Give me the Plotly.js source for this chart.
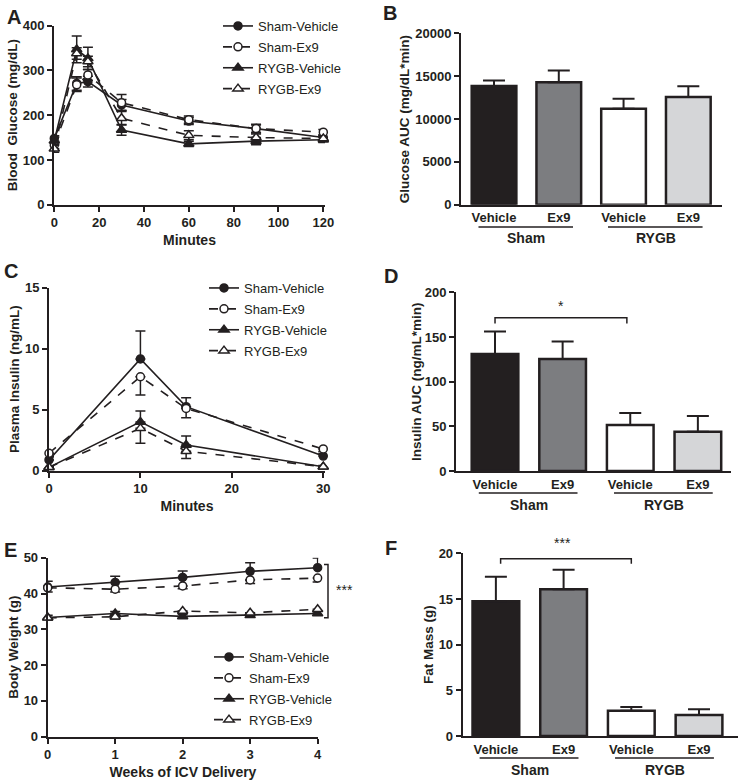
<!DOCTYPE html>
<html>
<head>
<meta charset="utf-8">
<script src="https://cdn.plot.ly/plotly-3.0.1.min.js"></script>
<style>html,body{margin:0;padding:0;background:#fff;}#chart{width:739px;height:780px;}</style>
</head>
<body>
<div id="chart"></div>
<script>
// ---------------- DATA ----------------
const seriesNames = ['Sham-Vehicle', 'Sham-Ex9', 'RYGB-Vehicle', 'RYGB-Ex9'];

// Panel A: blood glucose (mg/dL) vs minutes
const minutesA = [0, 10, 15, 30, 60, 90, 120];
const glucoseShamVeh = [148, 271, 275, 223, 187, 170, 150];
const glucoseShamVehErr = [6, 15, 12, 12, 8, 10, 6];
const glucoseShamEx9 = [133, 268, 290, 228, 190, 170, 162];
const glucoseShamEx9Err = [8, 15, 12, 18, 8, 8, 6];
const glucoseRygbVeh = [143, 347, 327, 167, 136, 142, 145];
const glucoseRygbVehErr = [8, 30, 25, 12, 6, 8, 6];
const glucoseRygbEx9 = [125, 338, 320, 193, 155, 150, 148];
const glucoseRygbEx9Err = [8, 13, 12, 15, 10, 8, 6];

// Panel C: plasma insulin (ng/mL) vs minutes
const minutesC = [0, 10, 15, 30];
const insulinShamVeh = [0.88, 9.16, 5.25, 1.2];
const insulinShamVehErr = [0.3, 2.3, 0.72, 0.2];
const insulinShamEx9 = [1.43, 7.7, 5.1, 1.78];
const insulinShamEx9Err = [0.3, 1.5, 0.75, 0.2];
const insulinRygbVeh = [0.28, 4.0, 2.1, 0.33];
const insulinRygbVehErr = [0.1, 0.9, 0.75, 0.1];
const insulinRygbEx9 = [0.28, 3.47, 1.6, 0.33];
const insulinRygbEx9Err = [0.1, 1.23, 0.6, 0.1];

// Panel E: body weight (g) vs weeks
const weeksE = [0, 1, 2, 3, 4];
const weightShamVeh = [41.8, 43.1, 44.5, 46.2, 47.2];
const weightShamVehErr = [1.6, 1.7, 1.8, 2.4, 2.7];
const weightShamEx9 = [41.6, 41.2, 42.1, 43.8, 44.3];
const weightShamEx9Err = [1.2, 0.8, 0.8, 1.0, 1.1];
const weightRygbVeh = [33.3, 34.4, 33.6, 33.9, 34.4];
const weightRygbVehErr = [0.6, 0.6, 0.6, 0.6, 0.6];
const weightRygbEx9 = [33.2, 33.5, 35.1, 34.6, 35.6];
const weightRygbEx9Err = [0.6, 0.6, 0.6, 0.6, 0.8];

// Bar panels (B, D, F)
const barGroups = ['Sham', 'Sham', 'RYGB', 'RYGB'];
const barTreatments = ['Vehicle', 'Ex9', 'Vehicle', 'Ex9'];
const glucoseAUC = [13850, 14300, 11200, 12570];
const glucoseAUCErr = [650, 1360, 1170, 1240];
const insulinAUC = [131, 125.4, 51.5, 44];
const insulinAUCErr = [25, 19.4, 13.4, 17.6];
const fatMass = [14.74, 16.06, 2.77, 2.3];
const fatMassErr = [2.7, 2.14, 0.41, 0.62];

// ---------------- STYLE ----------------
const W = 739, H = 780;
const INK = '#231f20';
const FONT = 'Liberation Sans, Arial, Helvetica, sans-serif';
const barFill = ['#231f20', '#7c7d80', '#ffffff', '#d5d6d8'];
const px = v => v / W;
const py = v => 1 - v / H;

const seriesStyle = [
  {symbol: 'circle', fill: INK, dash: 'solid', size: 8, errDir: 'up'},
  {symbol: 'circle', fill: '#ffffff', dash: 'dash', size: 8, errDir: 'down'},
  {symbol: 'triangle-up', fill: INK, dash: 'solid', size: 9, errDir: 'up'},
  {symbol: 'triangle-up', fill: '#ffffff', dash: 'dash', size: 9, errDir: 'down'}
];

function lineTrace(i, x, y, err, xa, ya, legendId, oneSided) {
  const s = seriesStyle[i];
  let ey;
  if (!oneSided) {
    ey = {type: 'data', array: err, visible: true, color: INK, thickness: 1.5, width: 5};
  } else {
    const zeros = err.map(() => 0);
    ey = {type: 'data', symmetric: false,
          array: s.errDir === 'up' ? err : zeros,
          arrayminus: s.errDir === 'up' ? zeros : err,
          visible: true, color: INK, thickness: 1.5, width: 5};
  }
  return {
    type: 'scatter', mode: 'lines+markers', name: seriesNames[i],
    x: x, y: y, xaxis: xa, yaxis: ya, legend: legendId,
    legendgroup: legendId + i,
    cliponaxis: false,
    line: {color: INK, width: 1.6, dash: s.dash},
    marker: {symbol: s.symbol, size: s.size, color: s.fill, line: {color: INK, width: 1.5}},
    error_y: ey
  };
}

function barTrace(vals, errs, xa, ya) {
  return {
    type: 'bar', x: vals.map((v, i) => i), y: vals, xaxis: xa, yaxis: ya,
    width: 0.69, showlegend: false,
    marker: {color: barFill, line: {color: INK, width: 2.5}},
    error_y: {type: 'data', symmetric: false, array: errs, arrayminus: errs.map(() => 0),
              color: INK, thickness: 2, width: 11}
  };
}

const traces = [];
const gA = [glucoseShamVeh, glucoseShamEx9, glucoseRygbVeh, glucoseRygbEx9];
const gAe = [glucoseShamVehErr, glucoseShamEx9Err, glucoseRygbVehErr, glucoseRygbEx9Err];
const iC = [insulinShamVeh, insulinShamEx9, insulinRygbVeh, insulinRygbEx9];
const iCe = [insulinShamVehErr, insulinShamEx9Err, insulinRygbVehErr, insulinRygbEx9Err];
const wE = [weightShamVeh, weightShamEx9, weightRygbVeh, weightRygbEx9];
const wEe = [weightShamVehErr, weightShamEx9Err, weightRygbVehErr, weightRygbEx9Err];
for (let i = 0; i < 4; i++) traces.push(lineTrace(i, minutesA, gA[i], gAe[i], 'x', 'y', 'legend', false));
traces.push(barTrace(glucoseAUC, glucoseAUCErr, 'x2', 'y2'));
for (let i = 0; i < 4; i++) traces.push(lineTrace(i, minutesC, iC[i], iCe[i], 'x3', 'y3', 'legend2', true));
traces.push(barTrace(insulinAUC, insulinAUCErr, 'x4', 'y4'));
for (let i = 0; i < 4; i++) traces.push(lineTrace(i, weeksE, wE[i], wEe[i], 'x5', 'y5', 'legend3', true));
traces.push(barTrace(fatMass, fatMassErr, 'x6', 'y6'));

const tickFont = {family: FONT, size: 13, color: INK, weight: 'bold'};
const titleFont = {family: FONT, size: 13.5, color: INK, weight: 'bold'};

function xAxis(dom, range, extra) {
  return Object.assign({
    domain: [px(dom[0]), px(dom[1])], range: range, showgrid: false, zeroline: false,
    showline: true, linecolor: INK, linewidth: 2, ticks: 'outside', ticklen: 5, tickwidth: 2,
    tickcolor: INK, tickfont: tickFont, fixedrange: true
  }, extra || {});
}
function yAxis(dom, range, dtick, titleText, standoff, extra) {
  return Object.assign({
    domain: [py(dom[1]), py(dom[0])], range: range, dtick: dtick, tickformat: 'd',
    showgrid: false, zeroline: false,
    showline: true, linecolor: INK, linewidth: 2, ticks: 'outside', ticklen: 5, tickwidth: 2,
    tickcolor: INK, tickfont: tickFont, fixedrange: true,
    title: {text: titleText, font: titleFont, standoff: standoff}
  }, extra || {});
}
function barXAxis(dom, range, anchor) {
  return xAxis(dom, range, {
    anchor: anchor, tickmode: 'array', tickvals: barTreatments.map((t, i) => i),
    ticktext: barTreatments, ticks: '', ticklabelstandoff: 0
  });
}

function legendAt(left, top) {
  return {x: px(left), y: py(top), xanchor: 'left', yanchor: 'top', bgcolor: 'rgba(0,0,0,0)',
          borderwidth: 0, tracegroupgap: 1, font: {family: FONT, size: 13, color: INK}};
}

// Group labels / underlines under bar panels, derived from the group categories
const annotations = [];
const shapes = [];
function groupLabels(xa, lineY, labelY) {
  const uniq = [...new Set(barGroups)];
  uniq.forEach(g => {
    const idx = barGroups.map((v, i) => v === g ? i : -1).filter(i => i >= 0);
    const lo = Math.min(...idx), hi = Math.max(...idx);
    shapes.push({type: 'line', xref: xa, yref: 'paper', x0: lo - 0.24, x1: hi + 0.22,
                 y0: py(lineY), y1: py(lineY), line: {color: INK, width: 1.5}});
    annotations.push({xref: xa, yref: 'paper', x: (lo + hi) / 2, y: py(labelY), text: g,
                      showarrow: false, font: {family: FONT, size: 14, color: INK, weight: 'bold'},
                      xanchor: 'center', yanchor: 'middle'});
  });
}
groupLabels('x2', 227, 238);
groupLabels('x4', 493, 505);
groupLabels('x6', 758, 770);

// Panel letters
[['A', 5, 17], ['B', 381, 13], ['C', 2, 271], ['D', 382, 276], ['E', 2, 550], ['F', 383, 548]].forEach(l => {
  annotations.push({xref: 'paper', yref: 'paper', x: px(l[1]), y: py(l[2]), text: l[0], showarrow: false,
                    xanchor: 'left', yanchor: 'middle', font: {family: FONT, size: 20, color: INK, weight: 'bold'}});
});

// Significance brackets
function bracket(xa, ya, i0, i1, yTop, yDrop) {
  shapes.push({type: 'path', xref: xa, yref: ya,
               path: `M ${i0} ${yDrop} L ${i0} ${yTop} L ${i1} ${yTop} L ${i1} ${yDrop}`,
               line: {color: INK, width: 1.5}});
}
bracket('x4', 'y4', 0, 1.95, 171.6, 165);
annotations.push({xref: 'x4', yref: 'y4', x: 0.98, y: 173, text: '*', showarrow: false, yanchor: 'bottom',
                  font: {family: FONT, size: 14, color: INK}});
bracket('x6', 'y6', 0.07, 2.0, 19.4, 18.85);
annotations.push({xref: 'x6', yref: 'y6 domain', x: 0.98, y: 1.0, text: '***', showarrow: false, yanchor: 'bottom',
                  font: {family: FONT, size: 14, color: INK}});
// Panel E bracket (right of the plot)
shapes.push({type: 'path', xref: 'paper', yref: 'y5',
             path: `M ${px(324)} 48.1 L ${px(328)} 48.1 L ${px(328)} 33.2 L ${px(324)} 33.2`,
             line: {color: INK, width: 1.5}});
annotations.push({xref: 'paper', yref: 'y5', x: px(344), y: 41, text: '***', showarrow: false,
                  font: {family: FONT, size: 14, color: INK}});

const layout = {
  width: W, height: H, margin: {l: 0, r: 0, t: 0, b: 0}, paper_bgcolor: '#fff', plot_bgcolor: '#fff',
  font: {family: FONT, color: INK}, showlegend: true, bargap: 0.3,
  xaxis: xAxis([54, 325], [-0.13, 120.75], {anchor: 'y', dtick: 20,
          title: {text: 'Minutes', font: {family: FONT, size: 14, color: INK, weight: 'bold'}, standoff: 6}}),
  yaxis: yAxis([25.7, 204.7], [0, 400], 100, 'Blood  Glucose (mg/dL)', 2, {anchor: 'x'}),
  xaxis2: barXAxis([461, 722], [-0.51, 3.52], 'y2'),
  yaxis2: yAxis([33.3, 204.7], [0, 20000], 5000, 'Glucose AUC (mg/dL*min)', 3, {anchor: 'x2'}),
  xaxis3: xAxis([49, 325], [0, 30.19], {anchor: 'y3', dtick: 10,
          title: {text: 'Minutes', font: {family: FONT, size: 14, color: INK, weight: 'bold'}, standoff: 6}}),
  yaxis3: yAxis([287.7, 470.7], [0, 15], 5, 'Plasma Insulin (ng/mL)', 2, {anchor: 'x3'}),
  xaxis4: barXAxis([456, 731], [-0.577, 3.49], 'y4'),
  yaxis4: yAxis([292.3, 471], [0, 200], 50, 'Insulin AUC (ng/mL*min)', 0, {anchor: 'x4'}),
  xaxis5: xAxis([47.7, 318.3], [0, 4.01], {anchor: 'y5', dtick: 1,
          title: {text: 'Weeks of ICV Delivery', font: {family: FONT, size: 14, color: INK, weight: 'bold'}, standoff: 6}}),
  yaxis5: yAxis([557.7, 736.7], [0, 50], 10, 'Body Weight (g)', 2, {anchor: 'x5'}),
  xaxis6: barXAxis([462.7, 738.3], [-0.49, 3.58], 'y6'),
  yaxis6: yAxis([553.3, 736], [0, 20], 5, 'Fat Mass (g)', 2, {anchor: 'x6'}),
  legend: legendAt(218, 11),
  legend2: legendAt(204, 273),
  legend3: legendAt(209, 642),
  annotations: annotations,
  shapes: shapes
};

Plotly.newPlot('chart', traces, layout, {staticPlot: true, displayModeBar: false});
</script>
</body>
</html>
